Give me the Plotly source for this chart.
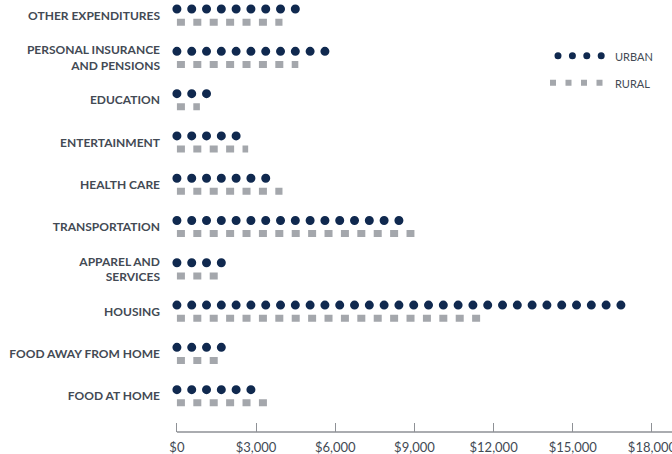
import plotly.graph_objects as go

# ---- data (top to bottom) ----
categories = [
    "OTHER EXPENDITURES",
    "PERSONAL INSURANCE<br>AND PENSIONS",
    "EDUCATION",
    "ENTERTAINMENT",
    "HEALTH CARE",
    "TRANSPORTATION",
    "APPAREL AND<br>SERVICES",
    "HOUSING",
    "FOOD AWAY FROM HOME",
    "FOOD AT HOME",
]
urban = [4600, 5950, 1350, 2600, 3800, 8700, 1800, 16950, 2150, 3200]
rural = [4000, 4600, 870, 2700, 4000, 9000, 1650, 11500, 1650, 3500]
x_tickvals = [0, 3000, 6000, 9000, 12000, 15000, 18000]
x_ticktext = ["$0", "$3,000", "$6,000", "$9,000", "$12,000", "$15,000", "$18,000"]
series_names = ["URBAN", "RURAL"]

# ---- styles ----
URBAN_C = "#10294f"
RURAL_C = "#a4a7ac"
TEXT_C = "#434a54"
AXIS_C = "#8e9196"
OFF = 0.155

def segs(values, off):
    xs, ys = [], []
    for i, v in enumerate(values):
        xs += [0, v, None]
        ys += [i + off, i + off, None]
    return xs, ys

ux, uy = segs(urban, -OFF)
rx, ry = segs(rural, OFF)

fig = go.Figure()
fig.add_trace(go.Scatter(x=ux, y=uy, mode="lines", name=series_names[0],
                         line=dict(color=URBAN_C, width=9, dash="0px,14.8px"),
                         hoverinfo="skip", showlegend=False))
fig.add_trace(go.Scatter(x=rx, y=ry, mode="lines", name=series_names[1],
                         line=dict(color=RURAL_C, width=7, dash="8px,8.4px"),
                         hoverinfo="skip", showlegend=False))

L, R, T, B = 169, 0, 0, 22
W, H = 672, 454
pw, ph = W - L - R, H - T - B

def px(xp):
    return (xp - L) / pw

def py(yp):
    return 1 - (yp - T) / ph

shapes = [
    dict(type="line", xref="x", yref="paper", x0=0, x1=19500, y0=0, y1=0,
         line=dict(color=AXIS_C, width=1.5), layer="above"),
    dict(type="line", xref="paper", yref="paper", x0=px(558), x1=px(601.5),
         y0=py(55.7), y1=py(55.7), line=dict(color=URBAN_C, width=7, dash="0px,14.4px"),
         layer="above"),
    dict(type="line", xref="paper", yref="paper", x0=px(550), x1=px(602.5),
         y0=py(82.7), y1=py(82.7), line=dict(color=RURAL_C, width=6, dash="6px,9.5px"),
         layer="above"),
]
annotations = [
    dict(text=series_names[0], xref="paper", yref="paper", x=px(613), y=py(56),
         xanchor="left", yanchor="middle", showarrow=False,
         font=dict(family="Lato", size=11, color=TEXT_C)),
    dict(text=series_names[1], xref="paper", yref="paper", x=px(613), y=py(84),
         xanchor="left", yanchor="middle", showarrow=False,
         font=dict(family="Lato", size=11, color=TEXT_C)),
]

p0, step = 15.6, 42.29
fig.update_layout(
    width=W, height=H,
    margin=dict(l=L, r=R, t=T, b=B, autoexpand=False),
    paper_bgcolor="white", plot_bgcolor="white",
    shapes=shapes, annotations=annotations,
    xaxis=dict(range=[-300, -300 + pw / 0.02639], showgrid=False, zeroline=False,
               showline=False, tickvals=x_tickvals, ticktext=x_ticktext,
               ticks="inside", ticklen=9, tickwidth=1.2, tickcolor=AXIS_C,
               tickfont=dict(family="Lato", size=13, color=TEXT_C),
               ticklabelstandoff=6, ticklabeloverflow="allow", fixedrange=True),
    yaxis=dict(range=[(ph - p0) / step, -p0 / step], showgrid=False, zeroline=False,
               showline=False, tickvals=list(range(len(categories))),
               ticktext=categories, ticks="",
               tickfont=dict(family="Lato", size=12, color=TEXT_C, weight=700),
               ticklabelstandoff=8, fixedrange=True),
    showlegend=False,
)

post = """
document.body.style.margin = '0';
document.body.style.padding = '0';
var gd = document.getElementById('{plot_id}');
function fixCaps(){
  var tr = gd.querySelectorAll('.scatterlayer .trace');
  if (tr.length) { tr[0].querySelectorAll('path').forEach(function(p){ p.style.strokeLinecap = 'round'; }); }
  gd.querySelectorAll('.shapelayer path[data-index="1"]').forEach(function(p){ p.style.strokeLinecap = 'round'; });
}
fixCaps();
gd.on('plotly_afterplot', fixCaps);
"""

fig.write_html("out.html", post_script=post, config={"displayModeBar": False})
